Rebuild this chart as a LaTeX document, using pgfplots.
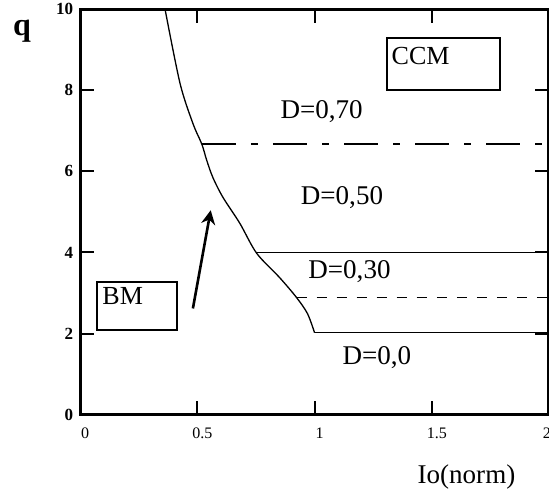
\documentclass[border=0pt]{standalone}
\usepackage{fontspec}
\setmainfont{Liberation Serif}
\usepackage{pgfplots}
\pgfplotsset{compat=1.18}
\usetikzlibrary{arrows.meta}
\begin{document}
\begin{tikzpicture}
\begin{axis}[
  width=234pt, height=202.5pt, scale only axis,
  xmin=0, xmax=2, ymin=0, ymax=10,
  xtick={0,0.5,1,1.5,2}, xticklabels={0,0.5,1,1.5,{}},
  ytick={0,2,4,6,8,10}, yticklabels={0,2,4,6,8,10},
  tick align=inside, major tick length=7pt,
  every tick/.style={black, line width=1pt},
  axis line style={line width=1.5pt},
  xticklabel style={font=\fontsize{8}{9}\selectfont, xshift=2.5pt, yshift=-3pt},
  yticklabel style={font=\fontsize{8.5}{9}\selectfont\bfseries},
  clip=false,
]
\coordinate (SW) at (rel axis cs:0,0);
\coordinate (NE) at (rel axis cs:1,1);
% boundary curve BM / CCM
\addplot[black, line width=0.65pt, smooth, tension=0.5] coordinates {
 (0.362,10) (0.426,8.17) (0.481,7.18) (0.519,6.67) (0.540,6.27) (0.566,5.85)
 (0.609,5.36) (0.681,4.72) (0.753,3.98) (0.851,3.38) (0.923,2.89) (0.970,2.49) (1.0,2.02)};
% D = 0.0
\addplot[black, line width=0.65pt] coordinates {(1.0,2.02) (2,2.02)};
% D = 0.30
\addplot[black, line width=0.65pt, dash pattern=on 5pt off 5pt] coordinates {(0.923,2.89) (2,2.89)};
% D = 0.50
\addplot[black, line width=0.65pt] coordinates {(0.753,4.0) (2,4.0)};
% D = 0.70
\addplot[black, line width=0.65pt, dash pattern=on 17pt off 7.5pt on 3.5pt off 7.5pt] coordinates {(0.519,6.67) (2,6.67)};
% arrow
\addplot[black, line width=1.3pt, -{Stealth[length=7pt,width=7pt]}] coordinates {(0.481,2.62) (0.557,5.04)};
% boxes
\draw[line width=1pt] (axis cs:1.31,8.0) rectangle (axis cs:1.79,9.28);
\node[anchor=north west, inner sep=0pt, font=\fontsize{13}{15}\selectfont] at ([xshift=2pt,yshift=-4.5pt]axis cs:1.31,9.28) {CCM};
\draw[line width=1pt] (axis cs:0.072,2.1) rectangle (axis cs:0.413,3.26);
\node[anchor=north west, inner sep=0pt, font=\fontsize{13}{15}\selectfont] at ([xshift=2.5pt,yshift=-2.5pt]axis cs:0.072,3.26) {BM};
% D labels
\node[font=\fontsize{13.5}{15}\selectfont] at (axis cs:1.03,7.48) {D=0,70};
\node[font=\fontsize{13.5}{15}\selectfont] at (axis cs:1.117,5.36) {D=0,50};
\node[font=\fontsize{13.5}{15}\selectfont] at (axis cs:1.149,3.53) {D=0,30};
\node[font=\fontsize{13.5}{15}\selectfont] at (axis cs:1.266,1.40) {D=0,0};
% last x tick label, partly cut by the page edge as in the reference
\node[anchor=north, font=\fontsize{8}{9}\selectfont, inner sep=0.333em] at ([xshift=-1pt,yshift=-3pt]rel axis cs:1,0) {2};
% axis labels
\node[font=\fontsize{13.5}{15}\selectfont] at ([yshift=-31pt]rel axis cs:0.824,0) {Io(norm)};
\node[font=\fontsize{16}{18}\selectfont\bfseries] at ([xshift=-29pt,yshift=-11.3pt]rel axis cs:0,1) {q};
\end{axis}
\pgfresetboundingbox
\useasboundingbox ([xshift=-40pt,yshift=-39.5pt]SW) rectangle ([yshift=4.5pt]NE);
\end{tikzpicture}
\end{document}
